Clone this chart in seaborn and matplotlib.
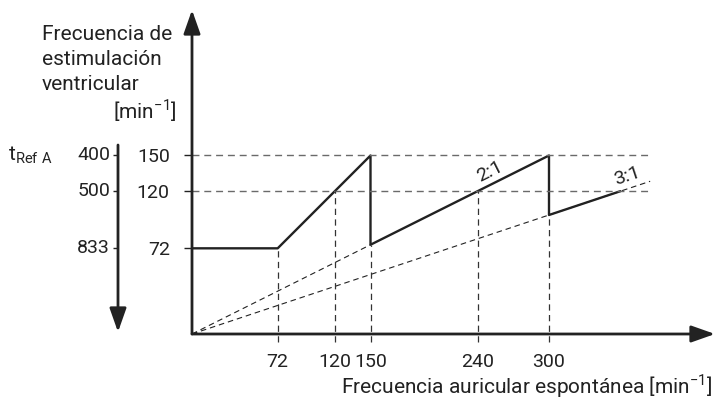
import numpy as np
import matplotlib
matplotlib.use("Agg")
import matplotlib.pyplot as plt
import seaborn as sns

sns.set_style("white")
plt.rcParams['font.family'] = ['Roboto', 'DejaVu Sans']
plt.rcParams['mathtext.fontset'] = 'custom'
plt.rcParams['mathtext.rm'] = 'Roboto'

# chart data
atrial = [0, 72, 150, 150, 300, 300, 360]          # Frecuencia auricular
ventricular = [72, 72, 150, 75, 150, 100, 120]     # Frecuencia ventricular
x_ticks = [72, 120, 150, 240, 300]
guide_top = [72, 120, 75, 120, 100]                # top of vertical guides
y_ticks = [72, 120, 150]
ref_lines = [120, 150]                             # horizontal dashed guides
t_ref = [833, 500, 400]                            # t Ref A [ms]
ratios = [2, 3]
ratio_end = [150, 385]
guide_end = 386

INK = "#222222"
GREY = "#6a6a6a"
FS = 14
FS_LAB = 15
PX = 1.19  # px per unit, same on both axes

fig = plt.figure(figsize=(7.15, 4.0), dpi=100)
W, H = 715, 400
ax = fig.add_axes([192 / W, 66 / H, 523 / W, 324 / H])
ax.set_xlim(0, 523 / PX)
ax.set_ylim(0, 324 / PX)
for s in ax.spines.values():
    s.set_visible(False)

# main curve
sns.lineplot(x=atrial, y=ventricular, sort=False, estimator=None,
             color=INK, lw=1.7, ax=ax)

# ratio lines from the origin
for r, xe in zip(ratios, ratio_end):
    ax.plot([0, xe], [0, xe / r], ls=(0, (5, 3.5)), color=INK, lw=0.8,
            clip_on=False)

# horizontal dashed guides
ax.hlines(ref_lines, 0, guide_end, colors=GREY, lw=1.0, ls=(0, (5, 3.5)))
# vertical dashed guides
ax.vlines(x_ticks, -7, guide_top, colors="#333333", lw=0.9,
          ls=(0, (5, 3.5)), clip_on=False)

# ticks
ax.set_xticks(x_ticks)
ax.set_yticks(y_ticks)
ax.tick_params(axis='x', length=0, pad=14, labelsize=FS, labelcolor=INK)
ax.tick_params(axis='y', length=6, width=1.0, color=INK, pad=10,
               labelsize=FS, labelcolor=INK, left=True)
ax.grid(False)

# axis arrows
arrow = dict(arrowstyle='-|>,head_length=0.85,head_width=0.3',
             mutation_scale=17, lw=2.0, color=INK, shrinkA=0, shrinkB=0)
ax.annotate('', xy=(523 / PX, 0), xytext=(0, 0), arrowprops=arrow,
            annotation_clip=False)
ax.annotate('', xy=(0, 324 / PX), xytext=(0, 0), arrowprops=arrow,
            annotation_clip=False)

# t Ref A scale (t = 60000 / f)
tx = -74 / PX
t_pos = [60000 / t for t in t_ref]
ax.annotate('', xy=(tx, 2 / PX), xytext=(tx, 189 / PX), arrowprops=arrow,
            annotation_clip=False)
ax.hlines(t_pos, tx - 5 / PX, tx, colors=INK, lw=1.0, clip_on=False)
for t, yp in zip(t_ref, t_pos):
    ax.text(tx - 8 / PX, yp, str(t), ha='right', va='center', fontsize=FS,
            color=INK, clip_on=False)

# ratio labels along the lines
for r, xl in zip(ratios, [254, 368]):
    ax.text(xl, xl / r + 3, f"{r}:1", rotation=np.degrees(np.arctan(1 / r)),
            rotation_mode='anchor', ha='center', va='bottom', fontsize=FS,
            color=INK)

# labels
for i, line in enumerate(["Frecuencia de", "estimulación", "ventricular"]):
    fig.text(42 / W, 1 - (40 + 25 * i) / H, line, fontsize=FS_LAB, color=INK,
             va='baseline')
fig.text(177 / W, 1 - 118 / H, r"[min$^{\mathregular{-1}}$]", fontsize=FS_LAB,
         color=INK, ha='right', va='baseline')
fig.text(8 / W, 1 - 160 / H, r"t$_{\mathregular{Ref\ A}}$", fontsize=FS_LAB,
         color=INK, va='baseline')
fig.text(712 / W, 1 - 393 / H,
         r"Frecuencia auricular espontánea [min$^{\mathregular{-1}}$]",
         fontsize=FS_LAB, color=INK, ha='right', va='baseline')

fig.savefig("out.png", dpi=100)
